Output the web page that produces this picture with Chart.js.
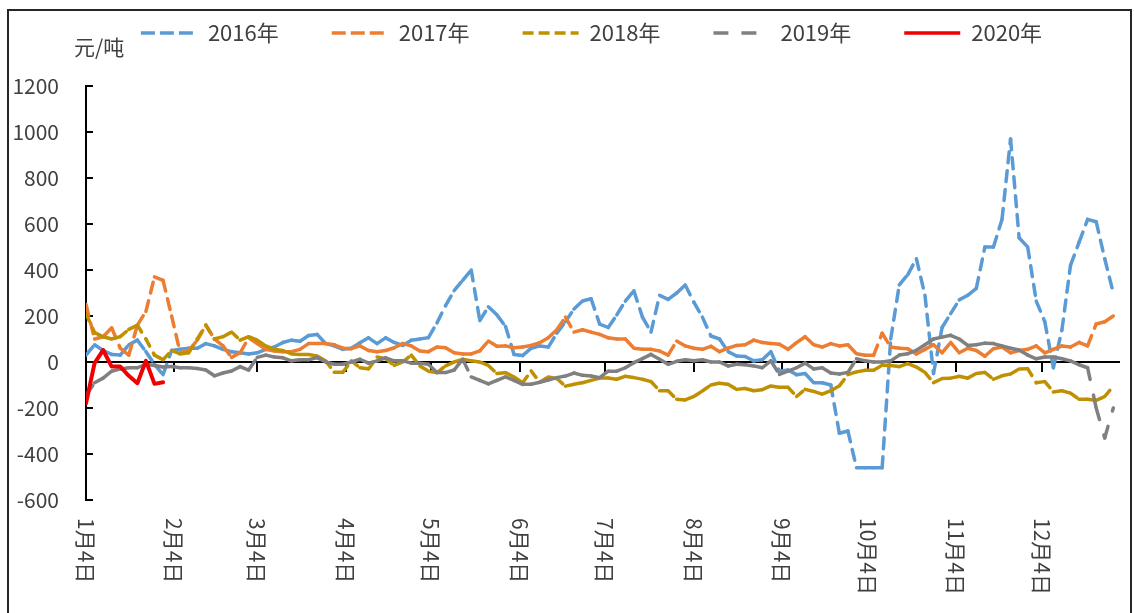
<!DOCTYPE html>
<html><head><meta charset="utf-8">
<script src="https://cdn.jsdelivr.net/npm/chart.js@4/dist/chart.umd.min.js"></script>
<style>
html,body{margin:0;padding:0;background:#fff;}
#wrap{position:relative;width:1134px;height:613px;overflow:hidden;}
#frame{position:absolute;left:7px;top:9px;width:1125px;height:620px;border:2px solid #262626;box-sizing:border-box;pointer-events:none;}
canvas{display:block;}
</style></head><body>
<div id="wrap"><canvas id="c" width="1134" height="613" style="width:1134px;height:613px"></canvas><div id="frame"></div></div>
<script>
// x positions: days since 1月4日
const days = [0,3,6,9,12,15,18,21,24,27,30,33,36,39,42,45,48,51,54,57,60,63,66,69,72,75,78,81,84,87,90,93,96,99,102,105,108,111,114,117,120,123,126,129,132,135,138,141,144,147,150,153,156,159,162,165,168,171,174,177,180,183,186,189,192,195,198,201,204,207,210,213,216,219,222,225,228,231,234,237,240,243,246,249,252,255,258,261,264,267,270,273,276,279,282,285,288,291,294,297,300,303,306,309,312,315,318,321,324,327,330,333,336,339,342,345,348,351,354,357,360];
const monthDays = [0,31,60,91,121,152,182,213,244,274,305,335];
const monthLabels = ['1月4日','2月4日','3月4日','4月4日','5月4日','6月4日','7月4日','8月4日','9月4日','10月4日','11月4日','12月4日'];
const seriesNames = ['2016年','2017年','2018年','2019年','2020年'];
const unitLabel = '元/吨';

const s2016 = [30,75,50,33,30,75,95,45,-10,-55,
 50,55,60,60,80,70,55,45,40,35,
 40,55,65,85,95,90,115,120,80,70,
 55,60,84,105,80,105,85,72,95,100,
 106,170,245,310,355,400,180,240,205,155,
 33,28,60,70,65,125,175,230,265,275,
 165,150,205,265,310,195,130,290,272,300,
 335,260,195,113,100,45,26,24,5,10,
 45,-40,-35,-55,-50,-90,-90,-100,-310,-300,
 -460,-460,-460,-460,100,335,380,449,290,-50,
 150,210,270,290,320,500,500,620,970,540,
 500,265,175,-25,140,420,520,620,610,449,
 300];
const s2017 = [250,100,110,149,60,30,160,220,370,355,
 200,40,50,95,160,100,70,20,40,105,
 80,55,48,45,45,55,80,80,80,75,
 60,58,70,50,45,50,62,80,70,48,
 45,65,62,40,35,35,48,91,68,70,
 62,65,72,84,105,140,195,130,140,130,
 120,105,100,100,60,55,55,48,30,91,
 70,60,55,68,45,60,72,75,95,85,
 80,77,55,84,110,75,65,80,70,75,
 36,29,29,125,65,60,58,35,55,75,
 40,85,40,60,50,25,58,65,40,50,
 55,70,40,55,70,65,85,70,165,175,
 200];
const s2018 = [210,128,110,100,110,142,160,100,30,10,
 50,35,40,100,160,100,110,130,95,110,
 95,70,55,50,35,33,33,26,5,-45,
 -45,5,-25,-30,22,15,-15,0,30,-17,
 -40,-46,-17,0,12,5,0,-15,-50,-46,
 -65,-90,-39,-88,-65,-72,-105,-97,-90,-80,
 -70,-70,-75,-62,-68,-75,-85,-125,-125,-162,
 -165,-150,-126,-100,-92,-97,-119,-115,-125,-120,
 -104,-110,-110,-150,-119,-128,-140,-125,-104,-55,
 -43,-36,-36,-14,-15,-20,-7,-22,-45,-90,
 -72,-70,-62,-70,-50,-45,-75,-60,-52,-30,
 -29,-90,-85,-130,-125,-135,-162,-162,-167,-150,
 -105];
const s2019 = [-145,-90,-70,-40,-30,-25,-25,-10,-15,-22,
 -20,-25,-25,-28,-35,-60,-48,-39,-20,-35,
 20,30,22,18,5,10,10,19,0,-10,
 -10,0,12,-5,5,18,5,5,-5,-5,
 -10,-46,-46,-35,12,-65,-80,-95,-80,-65,
 -80,-97,-97,-88,-78,-68,-61,-48,-58,-61,
 -68,-40,-40,-25,-3,15,33,12,-10,3,
 10,5,10,0,0,-17,-10,-12,-17,-25,
 5,-54,-40,-25,-5,-30,-25,-48,-52,-45,
 14,5,0,0,5,30,36,51,75,100,
 108,116,100,72,75,82,80,70,60,52,
 30,14,22,22,14,5,-12,-25,-200,-330,
 -200];
const s2020 = [-180,-5,52,-20,-20,-60,-92,5,-95,-88];

const colors = ['#5B9BD5','#ED7D31','#BF9000','#808080','#F00000'];
const lineWidths = [3.5,3.5,3.5,3.5,4];
const chartDashes = [[11,8],[11,8],[8,8],[12,16],[]];
const legendDashes = [[14,5],[14,5],[11,5],[15,13],[]];
const FONT = '"Noto Sans CJK SC","Microsoft YaHei",sans-serif';

const toXY = vals => vals.map((v, i) => ({x: days[i], y: v}));
const restart = ctx => (ctx.p0DataIndex % 2) * 0.01;

const allSeries = [s2016, s2017, s2018, s2019, s2020];
const datasets = allSeries.map((vals, i) => {
  const ds = {
    label: seriesNames[i],
    data: toXY(vals),
    borderColor: colors[i],
    backgroundColor: colors[i],
    borderWidth: lineWidths[i],
    borderDash: chartDashes[i],
    borderCapStyle: 'round',
    borderJoinStyle: 'round',
    pointRadius: 0,
    tension: 0,
    fill: false,
    order: 5 - i
  };
  if (chartDashes[i].length) ds.segment = { borderDashOffset: restart };
  return ds;
});

const deco = {
  id: 'deco',
  beforeLayout(chart) {
    const lg = chart.legend;
    if (lg && !lg._pf) {
      const f = lg.fit;
      lg.fit = function () { f.call(this); this.height = 86; };
      lg._pf = true;
    }
  },
  afterLayout(chart) {
    const lg = chart.legend;
    if (lg) {
      lg.top = -31; lg.bottom = lg.top + lg.height;
      lg.left = 64; lg.right = chart.chartArea.right; lg.width = lg.right - lg.left;
    }
  },
  beforeDatasetsDraw(chart) {
    const {ctx, scales: {x, y}} = chart;
    ctx.save();
    ctx.strokeStyle = '#000';
    ctx.lineWidth = 2;
    y.ticks.forEach(t => {
      const py = Math.round(y.getPixelForValue(t.value));
      ctx.beginPath();
      ctx.moveTo(x.left, py);
      ctx.lineTo(x.left + 7, py);
      ctx.stroke();
    });
    ctx.restore();
  },
  afterDraw(chart) {
    const {ctx, scales: {x}, chartArea} = chart;
    ctx.save();
    ctx.fillStyle = '#404040';
    ctx.font = '21px ' + FONT;
    ctx.textAlign = 'left';
    ctx.textBaseline = 'middle';
    monthDays.forEach((d, i) => {
      const px = x.getPixelForValue(d);
      ctx.save();
      ctx.translate(px, chartArea.bottom + 18);
      ctx.rotate(Math.PI / 2);
      ctx.fillText(monthLabels[i], 0, 0);
      ctx.restore();
    });
    ctx.fillText(unitLabel, 74, 47);
    ctx.restore();
  }
};

new Chart(document.getElementById('c'), {
  type: 'line',
  data: { datasets },
  plugins: [deco],
  options: {
    responsive: false,
    animation: false,
    events: [],
    layout: { padding: { left: 0, right: 15, top: 0, bottom: 113 } },
    scales: {
      x: {
        type: 'linear',
        position: { y: 0 },
        min: 0,
        max: 362,
        afterBuildTicks: s => { s.ticks = monthDays.map(v => ({ value: v })); },
        ticks: { display: false },
        grid: { display: true, drawOnChartArea: false, drawTicks: true, tickLength: 9, color: '#000', lineWidth: 2 },
        border: { display: true, color: '#000', width: 2 }
      },
      y: {
        min: -600,
        max: 1200,
        ticks: { stepSize: 200, color: '#404040', font: { size: 21, family: FONT }, padding: 19, callback: v => String(v) },
        grid: { display: false },
        border: { display: true, color: '#000', width: 2 },
        afterFit: s => { s.width = 86; }
      }
    },
    plugins: {
      tooltip: { enabled: false },
      legend: {
        position: 'top',
        align: 'center',
        labels: {
          usePointStyle: true,
          pointStyle: 'line',
          pointStyleWidth: 56,
          boxHeight: 22,
          padding: 53,
          color: '#404040',
          font: { size: 22, family: FONT },
          sort: (a, b) => a.datasetIndex - b.datasetIndex,
          generateLabels(chart) {
            const items = Chart.defaults.plugins.legend.labels.generateLabels(chart);
            items.forEach(it => {
              const k = it.datasetIndex;
              it.lineDash = legendDashes[k];
              it.lineCap = 'butt';
              it.lineWidth = 3.5;
              it.pointStyle = 'line';
            });
            return items;
          }
        }
      }
    }
  }
});
</script>
</body></html>
